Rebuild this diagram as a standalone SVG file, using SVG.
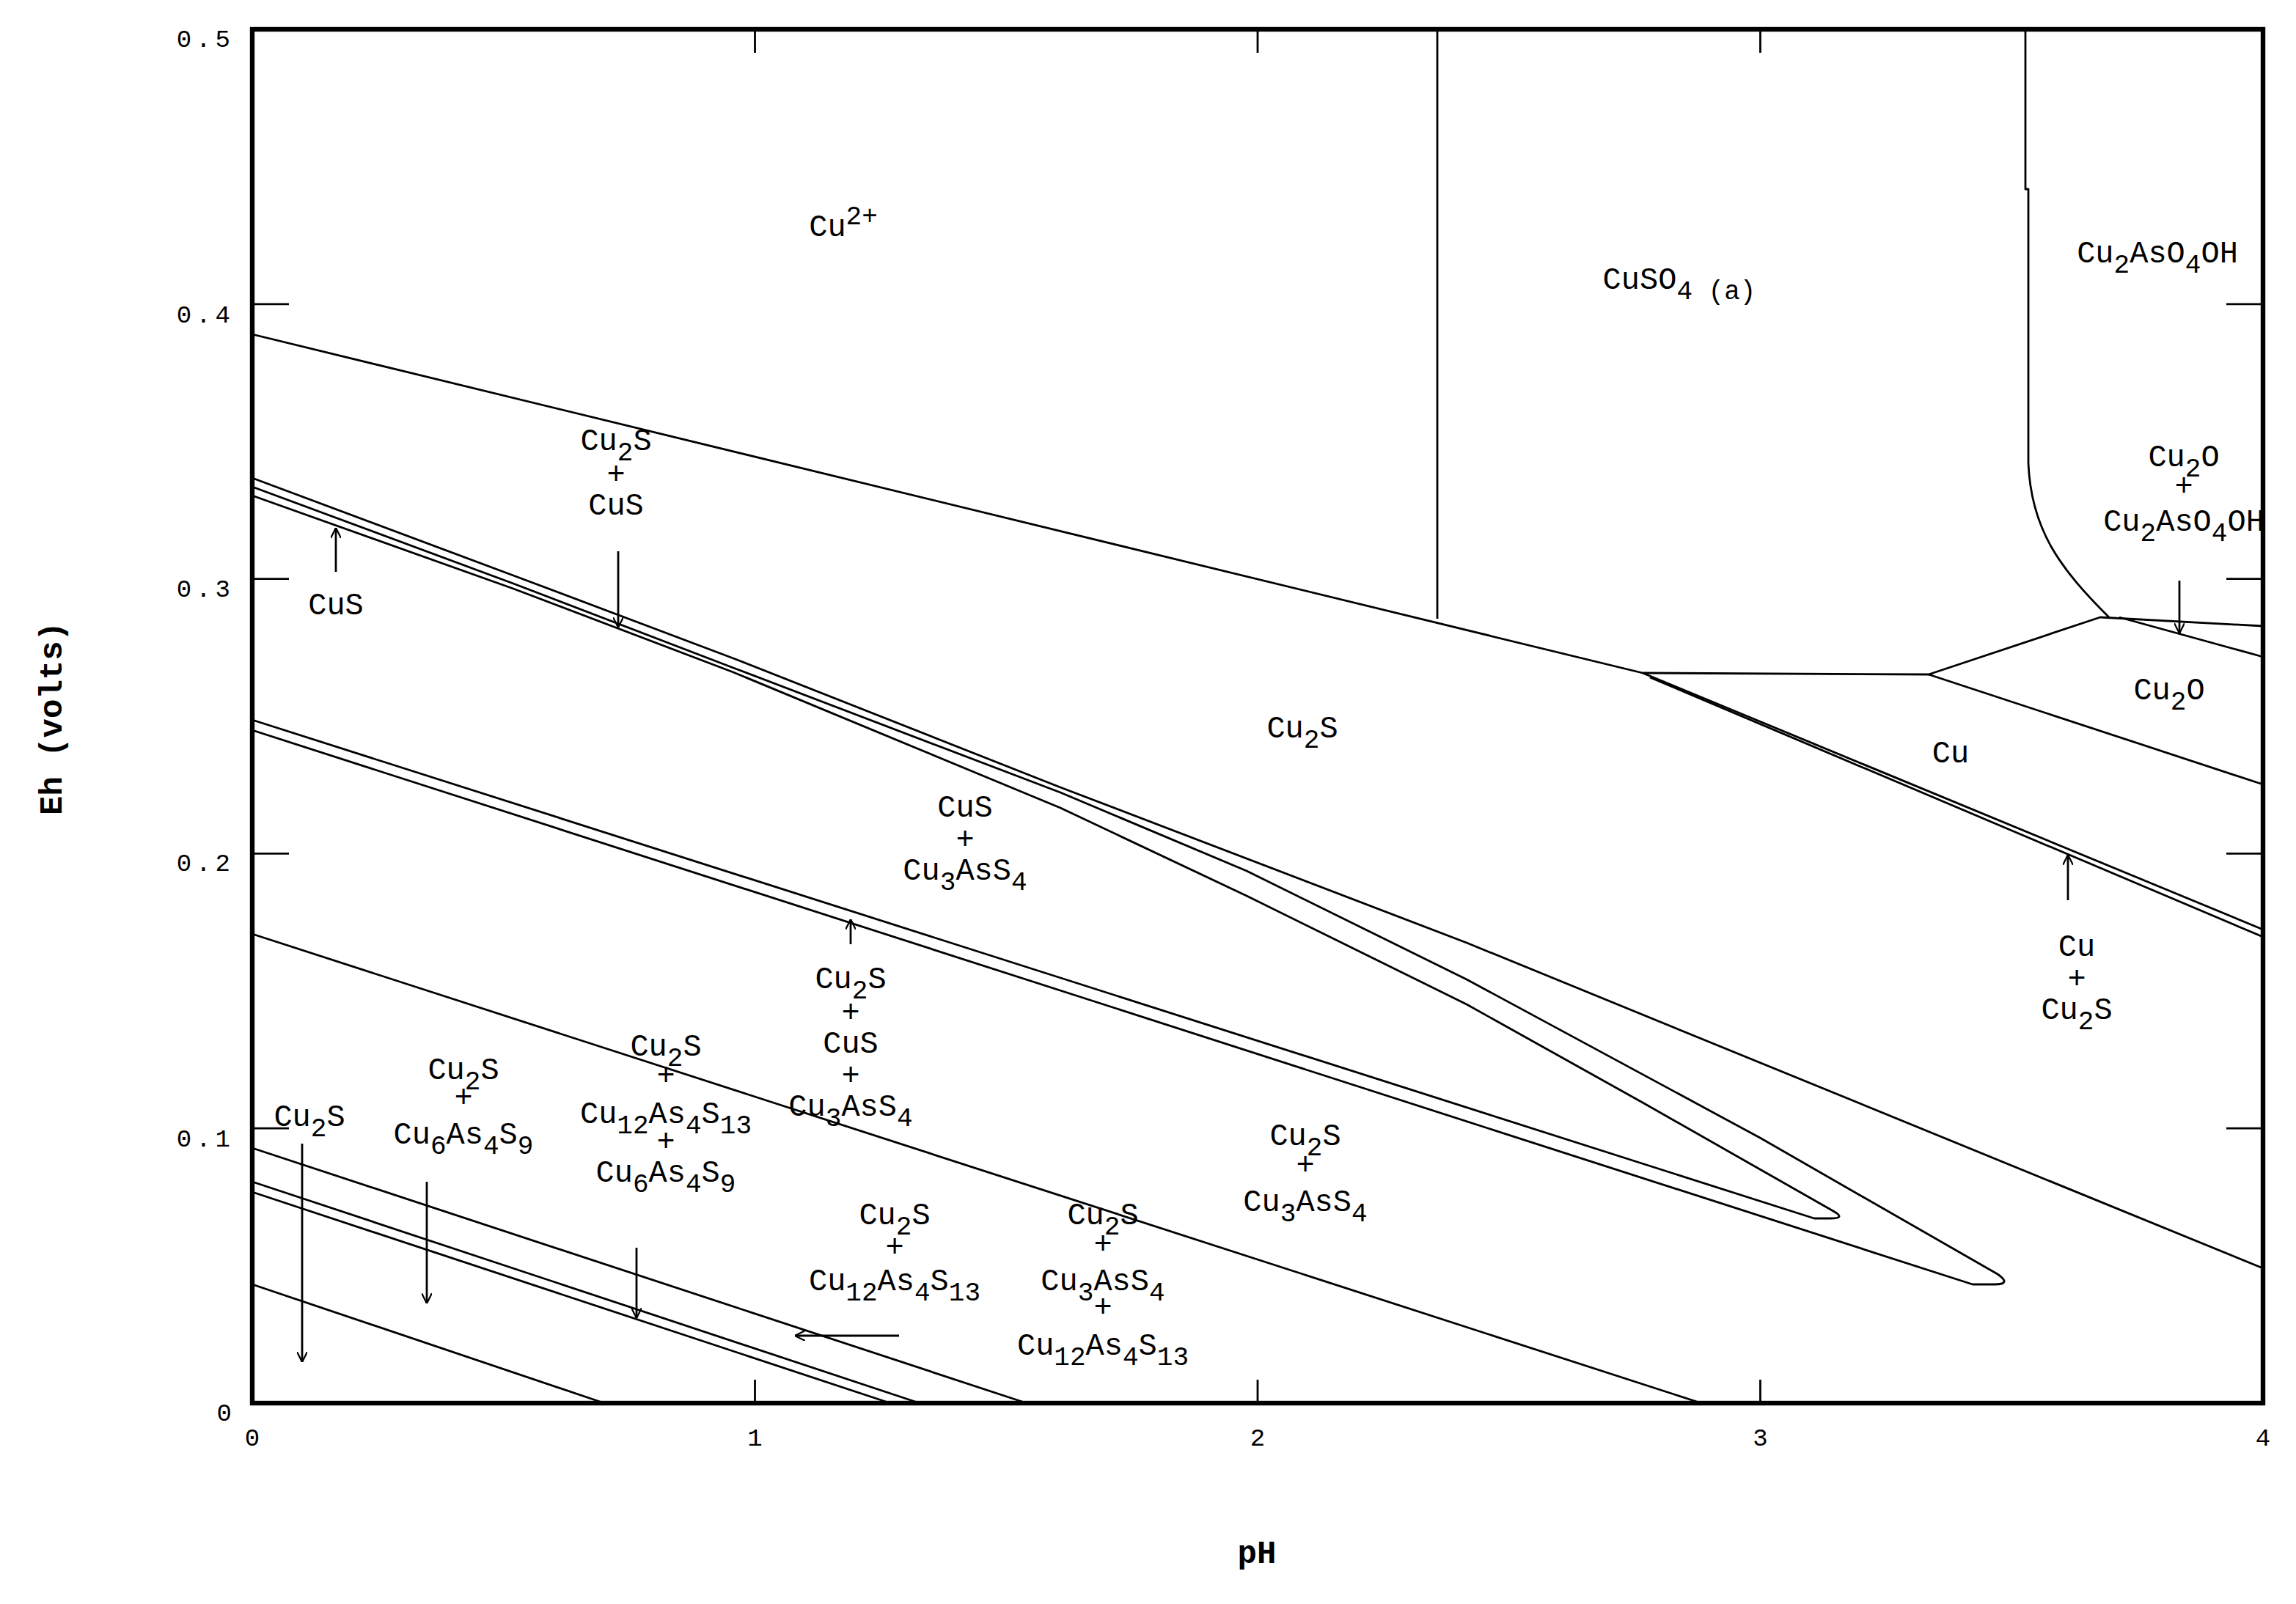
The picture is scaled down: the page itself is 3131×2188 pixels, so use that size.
<svg xmlns="http://www.w3.org/2000/svg" width="3131" height="2188" viewBox="0 0 3131 2188">
<style>
.ln{fill:none;stroke:#000;stroke-width:1.4;stroke-linejoin:round}
.ax{fill:none;stroke:#000;stroke-width:3.2}
.tk{stroke:#000;stroke-width:1.4}
.lb{font-family:"Liberation Mono","DejaVu Sans Mono",monospace;font-size:21px;fill:#000;text-anchor:middle}
.sb{font-size:18px}
.tl{font-family:"Liberation Mono","DejaVu Sans Mono",monospace;font-size:17px;fill:#000}
.tt{font-family:"Liberation Mono","DejaVu Sans Mono",monospace;font-size:22px;font-weight:bold;fill:#000;text-anchor:middle}
.ar{fill:none;stroke:#000;stroke-width:1.4;marker-end:url(#ah)}
</style>
<defs>
<marker id="ah" viewBox="0 0 10 10" refX="10" refY="5" markerWidth="7" markerHeight="7" markerUnits="userSpaceOnUse" orient="auto">
<path d="M0,0 L10,5 L0,10" fill="none" stroke="#000" stroke-width="1.6"/>
</marker>
</defs>
<rect width="3131" height="2188" fill="#fff"/>
<g transform="scale(2)">
<g id="axes">
<rect class="ax" x="172" y="20" width="1371" height="937"/>
<path class="tk" d="M172,769.6h25M172,582.2h25M172,394.8h25M172,207.4h25M1543,769.6h-25M1543,582.2h-25M1543,394.8h-25M1543,207.4h-25M514.75,957v-16M857.5,957v-16M1200.25,957v-16M514.75,20v16M857.5,20v16M1200.25,20v16"/>
<text class="tl" x="160" y="32" text-anchor="end" letter-spacing="3">0.5</text>
<text class="tl" x="160" y="220" text-anchor="end" letter-spacing="3">0.4</text>
<text class="tl" x="160" y="407" text-anchor="end" letter-spacing="3">0.3</text>
<text class="tl" x="160" y="594" text-anchor="end" letter-spacing="3">0.2</text>
<text class="tl" x="160" y="782" text-anchor="end" letter-spacing="3">0.1</text>
<text class="tl" x="158" y="969" text-anchor="end">0</text>
<text class="tl" x="172" y="986" text-anchor="middle">0</text>
<text class="tl" x="514.75" y="986" text-anchor="middle">1</text>
<text class="tl" x="857.5" y="986" text-anchor="middle">2</text>
<text class="tl" x="1200.25" y="986" text-anchor="middle">3</text>
<text class="tl" x="1543" y="986" text-anchor="middle">4</text>
<text class="tt" x="857" y="1066">pH</text>
<text class="tt" transform="translate(42,490) rotate(-90)">Eh (volts)</text>
</g>
<g id="connectors">
<path class="ln" d="M172,228 L1120,459 L1315,460 L1432,421 L1543,427"/>
<path class="ln" d="M1445,421 L1543,448"/>
<path class="ln" d="M1315,460 L1543,535"/>
<path class="ln" d="M980,20 L980,422"/>
<path class="ln" d="M1381,20 L1381,129 L1383,129 L1383,316 C1385,362 1405,388 1438,421"/>
<path class="ln" d="M1120,459 L1543,634"/>
<path class="ln" d="M1125,462 L1543,639"/>
<path class="ln" d="M172,326 L350,392.5 L500,449 L723,537 L1000,643 L1543,865"/>
<path class="ln" d="M172,332 L350,398 L500,455.5 L723,540.5 L850,594 L1000,668 L1200,776 L1362,869 Q1372,876 1360,876 L1345,876 L172,498"/>
<path class="ln" d="M172,338 L350,401.5 L500,458.5 L723,551 L850,611 L1000,685 L1120,752 L1250,826 Q1259,831 1248,831 L1237,831 L172,491"/>
<path class="ln" d="M172,637 L1160,957"/>
<path class="ln" d="M172,783 L700,957"/>
<path class="ln" d="M172,806 L627,957"/>
<path class="ln" d="M172,813 L607,957"/>
<path class="ln" d="M172,876 L412,957"/>
<path class="ar" d="M229,390 L229,360"/>
<path class="ar" d="M421.5,376 L421.5,428"/>
<path class="ar" d="M580,644 L580,627"/>
<path class="ar" d="M206,780 L206,929"/>
<path class="ar" d="M291,806 L291,889"/>
<path class="ar" d="M434,851 L434,899"/>
<path class="ar" d="M613,911 L542,911"/>
<path class="ar" d="M1410,614 L1410,583"/>
<path class="ar" d="M1486,396 L1486,432"/>
</g>
<g id="n-cu2plus"><text class="lb" x="575" y="161">Cu<tspan class="sb" dy="-8">2+</tspan></text></g>
<g id="n-cuso4"><text class="lb" x="1145" y="197">CuSO<tspan class="sb" dy="7">4 (a)</tspan></text></g>
<g id="n-cu2aso4oh"><text class="lb" x="1471" y="179">Cu<tspan class="sb" dy="7">2</tspan><tspan dy="-7">AsO</tspan><tspan class="sb" dy="7">4</tspan><tspan dy="-7">OH</tspan></text></g>
<g id="n-cu2o-cu2aso4oh">
<text class="lb" x="1489" y="318">Cu<tspan class="sb" dy="7">2</tspan><tspan dy="-7">O</tspan></text>
<text class="lb" x="1489" y="338">+</text>
<text class="lb" x="1489" y="362">Cu<tspan class="sb" dy="7">2</tspan><tspan dy="-7">AsO</tspan><tspan class="sb" dy="7">4</tspan><tspan dy="-7">OH</tspan></text>
</g>
<g id="n-cu2o"><text class="lb" x="1479" y="477">Cu<tspan class="sb" dy="7">2</tspan><tspan dy="-7">O</tspan></text></g>
<g id="n-cu"><text class="lb" x="1330" y="520">Cu</text></g>
<g id="n-cu-cu2s">
<text class="lb" x="1416" y="652">Cu</text>
<text class="lb" x="1416" y="674">+</text>
<text class="lb" x="1416" y="695">Cu<tspan class="sb" dy="7">2</tspan><tspan dy="-7">S</tspan></text>
</g>
<g id="n-cu2s"><text class="lb" x="888" y="503">Cu<tspan class="sb" dy="7">2</tspan><tspan dy="-7">S</tspan></text></g>
<g id="n-cu2s-cus">
<text class="lb" x="420" y="307">Cu<tspan class="sb" dy="7">2</tspan><tspan dy="-7">S</tspan></text>
<text class="lb" x="420" y="330">+</text>
<text class="lb" x="420" y="351">CuS</text>
</g>
<g id="n-cus"><text class="lb" x="229" y="419">CuS</text></g>
<g id="n-cus-cu3ass4">
<text class="lb" x="658" y="557">CuS</text>
<text class="lb" x="658" y="579">+</text>
<text class="lb" x="658" y="600">Cu<tspan class="sb" dy="7">3</tspan><tspan dy="-7">AsS</tspan><tspan class="sb" dy="7">4</tspan></text>
</g>
<g id="n-cu2s-cus-cu3ass4">
<text class="lb" x="580" y="674">Cu<tspan class="sb" dy="7">2</tspan><tspan dy="-7">S</tspan></text>
<text class="lb" x="580" y="697">+</text>
<text class="lb" x="580" y="718">CuS</text>
<text class="lb" x="580" y="740">+</text>
<text class="lb" x="580" y="761">Cu<tspan class="sb" dy="7">3</tspan><tspan dy="-7">AsS</tspan><tspan class="sb" dy="7">4</tspan></text>
</g>
<g id="n-cu2s-cu12-cu6">
<text class="lb" x="454" y="720">Cu<tspan class="sb" dy="7">2</tspan><tspan dy="-7">S</tspan></text>
<text class="lb" x="454" y="740">+</text>
<text class="lb" x="454" y="766">Cu<tspan class="sb" dy="7">12</tspan><tspan dy="-7">As</tspan><tspan class="sb" dy="7">4</tspan><tspan dy="-7">S</tspan><tspan class="sb" dy="7">13</tspan></text>
<text class="lb" x="454" y="785">+</text>
<text class="lb" x="454" y="806">Cu<tspan class="sb" dy="7">6</tspan><tspan dy="-7">As</tspan><tspan class="sb" dy="7">4</tspan><tspan dy="-7">S</tspan><tspan class="sb" dy="7">9</tspan></text>
</g>
<g id="n-cu2s-cu6">
<text class="lb" x="316" y="736">Cu<tspan class="sb" dy="7">2</tspan><tspan dy="-7">S</tspan></text>
<text class="lb" x="316" y="755">+</text>
<text class="lb" x="316" y="780">Cu<tspan class="sb" dy="7">6</tspan><tspan dy="-7">As</tspan><tspan class="sb" dy="7">4</tspan><tspan dy="-7">S</tspan><tspan class="sb" dy="7">9</tspan></text>
</g>
<g id="n-cu2s-left"><text class="lb" x="211" y="768">Cu<tspan class="sb" dy="7">2</tspan><tspan dy="-7">S</tspan></text></g>
<g id="n-cu2s-cu12">
<text class="lb" x="610" y="835">Cu<tspan class="sb" dy="7">2</tspan><tspan dy="-7">S</tspan></text>
<text class="lb" x="610" y="857">+</text>
<text class="lb" x="610" y="880">Cu<tspan class="sb" dy="7">12</tspan><tspan dy="-7">As</tspan><tspan class="sb" dy="7">4</tspan><tspan dy="-7">S</tspan><tspan class="sb" dy="7">13</tspan></text>
</g>
<g id="n-cu2s-cu3-cu12">
<text class="lb" x="752" y="835">Cu<tspan class="sb" dy="7">2</tspan><tspan dy="-7">S</tspan></text>
<text class="lb" x="752" y="855">+</text>
<text class="lb" x="752" y="880">Cu<tspan class="sb" dy="7">3</tspan><tspan dy="-7">AsS</tspan><tspan class="sb" dy="7">4</tspan></text>
<text class="lb" x="752" y="898">+</text>
<text class="lb" x="752" y="924">Cu<tspan class="sb" dy="7">12</tspan><tspan dy="-7">As</tspan><tspan class="sb" dy="7">4</tspan><tspan dy="-7">S</tspan><tspan class="sb" dy="7">13</tspan></text>
</g>
<g id="n-cu2s-cu3ass4">
<text class="lb" x="890" y="781">Cu<tspan class="sb" dy="7">2</tspan><tspan dy="-7">S</tspan></text>
<text class="lb" x="890" y="801">+</text>
<text class="lb" x="890" y="826">Cu<tspan class="sb" dy="7">3</tspan><tspan dy="-7">AsS</tspan><tspan class="sb" dy="7">4</tspan></text>
</g>
</g>
</svg>
